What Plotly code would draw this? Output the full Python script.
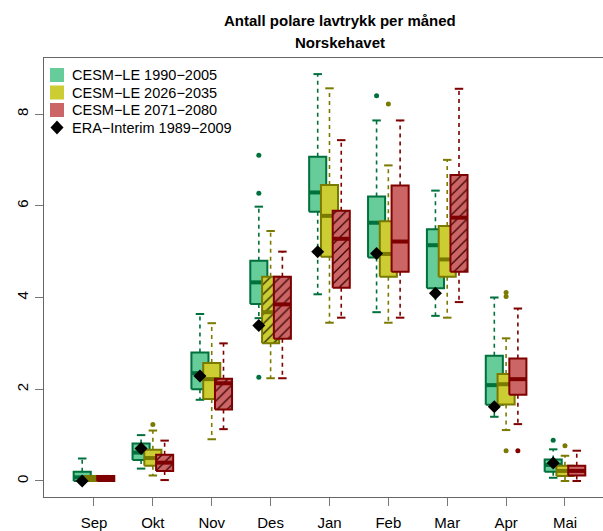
import plotly.graph_objects as go

# Months (Sep-Mai) and the number of polar lows per month
months = ["Sep", "Okt", "Nov", "Des", "Jan", "Feb", "Mar", "Apr", "Mai"]

# CESM-LE 1990-2005
g_lower = [0.00, 0.27, 1.77, 3.55, 4.07, 3.68, 3.60, 1.40, 0.07]
g_q1 = [0.00, 0.46, 2.00, 3.86, 5.87, 4.87, 4.20, 1.66, 0.20]
g_med = [0.08, 0.62, 2.35, 4.33, 6.29, 5.63, 5.14, 2.09, 0.35]
g_q3 = [0.20, 0.82, 2.80, 4.80, 7.07, 6.20, 5.49, 2.73, 0.47]
g_upper = [0.49, 1.00, 3.64, 5.98, 8.87, 7.86, 6.33, 4.00, 0.69]
g_out = {"Des": [7.10, 6.27, 2.26], "Feb": [8.40], "Mai": [0.89]}
g_hatch = []

# CESM-LE 2026-2035
y_lower = [0.00, 0.12, 0.91, 2.24, 3.45, 3.45, 3.56, 1.11, 0.00]
y_q1 = [0.00, 0.33, 1.79, 3.00, 4.89, 4.45, 4.45, 1.67, 0.11]
y_med = [0.05, 0.50, 2.22, 3.68, 5.78, 4.95, 4.83, 2.11, 0.22]
y_q3 = [0.11, 0.68, 2.57, 4.45, 6.45, 5.66, 5.56, 2.33, 0.33]
y_upper = [0.11, 1.10, 3.44, 5.45, 8.56, 6.88, 7.00, 3.11, 0.55]
y_out = {"Okt": [1.23], "Feb": [8.22], "Apr": [4.11, 4.02, 0.66], "Mai": [0.77]}
y_hatch = ["Sep", "Des"]

# CESM-LE 2071-2080
r_lower = [0.00, 0.02, 1.13, 2.24, 3.56, 3.56, 3.90, 1.24, 0.00]
r_q1 = [0.00, 0.22, 1.56, 3.10, 4.21, 4.56, 4.56, 1.88, 0.12]
r_med = [0.05, 0.40, 2.13, 3.85, 5.28, 5.22, 5.74, 2.22, 0.22]
r_q3 = [0.11, 0.57, 2.23, 4.45, 5.89, 6.44, 6.67, 2.67, 0.33]
r_upper = [0.11, 0.88, 3.00, 5.00, 7.43, 7.86, 8.55, 3.76, 0.66]
r_out = {"Apr": [0.66]}
r_hatch = ["Sep", "Okt", "Nov", "Des", "Jan", "Mar"]

# ERA-Interim 1989-2009
era = [0.00, 0.71, 2.29, 3.39, 5.00, 4.96, 4.09, 1.62, 0.39]
era_label = "ERA\u2212Interim 1989\u22122009"

y_ticks = [0, 2, 4, 6, 8]

series = [
    dict(name="CESM\u2212LE 1990\u22122005", fill="#66CC99", line="#00703C", hatchc="#003a1e",
         lower=g_lower, q1=g_q1, med=g_med, q3=g_q3, upper=g_upper, out=g_out, hatch=g_hatch, off=-0.2),
    dict(name="CESM\u2212LE 2026\u22122035", fill="#CCCC33", line="#7A7A00", hatchc="#222200",
         lower=y_lower, q1=y_q1, med=y_med, q3=y_q3, upper=y_upper, out=y_out, hatch=y_hatch, off=0.0),
    dict(name="CESM\u2212LE 2071\u22122080", fill="#CC6666", line="#7F0000", hatchc="#3a0000",
         lower=r_lower, q1=r_q1, med=r_med, q3=r_q3, upper=r_upper, out=r_out, hatch=r_hatch, off=0.2),
]

BOX_HW = 0.145   # half box width (x units, one unit per month)
CAP_HW = 0.072   # half staple width
FONT = "Liberation Sans, Arial, Helvetica, sans-serif"

# plot-area geometry in pixels, used to place the legend block
W, H = 603, 531
ML, MR, MT, MB = 44, 0, 58, 34
PW, PH = W - ML - MR, H - MT - MB


def px_x(p):
    return (p - ML) / PW


def px_y(p):
    return (H - MB - p) / PH


fig = go.Figure()

for s in series:
    for i, m in enumerate(months):
        xc = i + 1 + s["off"]
        xl, xr = xc - BOX_HW, xc + BOX_HW
        lo, q1, md, q3, up = s["lower"][i], s["q1"][i], s["med"][i], s["q3"][i], s["upper"][i]
        # dashed whiskers
        fig.add_trace(go.Scatter(x=[xc, xc, None, xc, xc], y=[q3, up, None, q1, lo],
                                 mode="lines", line=dict(color=s["line"], width=1.6, dash="4px,4px"),
                                 showlegend=False, hoverinfo="skip"))
        # staples
        fig.add_trace(go.Scatter(x=[xc - CAP_HW, xc + CAP_HW, None, xc - CAP_HW, xc + CAP_HW],
                                 y=[up, up, None, lo, lo],
                                 mode="lines", line=dict(color=s["line"], width=2),
                                 showlegend=False, hoverinfo="skip"))
        # box
        box = dict(x=[xl, xr, xr, xl, xl], y=[q1, q1, q3, q3, q1], mode="lines", fill="toself",
                   fillcolor=s["fill"], line=dict(color=s["line"], width=2),
                   showlegend=False, hoverinfo="skip")
        if m in s["hatch"]:
            box["fillpattern"] = dict(shape="/", fgcolor=s["hatchc"], bgcolor=s["fill"],
                                      size=7, solidity=0.18, fillmode="replace")
        fig.add_trace(go.Scatter(**box))
        # median
        fig.add_trace(go.Scatter(x=[xl, xr], y=[md, md], mode="lines",
                                 line=dict(color=s["line"], width=4),
                                 showlegend=False, hoverinfo="skip"))
    # outliers
    ox, oy = [], []
    for m, vals in s["out"].items():
        for v in vals:
            ox.append(months.index(m) + 1 + s["off"])
            oy.append(v)
    fig.add_trace(go.Scatter(x=ox, y=oy, mode="markers",
                             marker=dict(size=5, color=s["line"]),
                             showlegend=False, hoverinfo="skip"))

# ERA-Interim
fig.add_trace(go.Scatter(x=[i + 1 - 0.2 for i in range(len(months))], y=era, mode="markers",
                         marker=dict(symbol="diamond", size=10, color="black"),
                         showlegend=False, hoverinfo="skip"))

# legend block in the top-left corner
shapes, annotations = [], []
row_y = [75, 92.5, 110, 127.5]
for s, ry in zip(series, row_y):
    shapes.append(dict(type="rect", xref="paper", yref="paper",
                       x0=px_x(50), x1=px_x(64), y0=px_y(ry + 7), y1=px_y(ry - 7),
                       fillcolor=s["fill"], line=dict(width=0)))
labels = [s["name"] for s in series] + [era_label]
shapes.append(dict(type="path", xref="paper", yref="paper", xsizemode="pixel", ysizemode="pixel",
                   xanchor=px_x(57), yanchor=px_y(row_y[3]),
                   path="M0,7 L6.5,0 L0,-7 L-6.5,0 Z", fillcolor="black", line=dict(width=0)))
for lab, ry in zip(labels, row_y):
    annotations.append(dict(text=lab, xref="paper", yref="paper", x=px_x(70), y=px_y(ry),
                            xanchor="left", yanchor="middle", showarrow=False,
                            font=dict(size=14.5)))

title_x = px_x(340)
annotations += [
    dict(text="<b>Antall polare lavtrykk per m\u00e5ned</b>", xref="paper", yref="paper",
         x=title_x, y=px_y(20), xanchor="center", yanchor="middle",
         showarrow=False, font=dict(size=15)),
    dict(text="<b>Norskehavet</b>", xref="paper", yref="paper",
         x=title_x, y=px_y(43), xanchor="center", yanchor="middle",
         showarrow=False, font=dict(size=15)),
]

fig.update_layout(
    width=W, height=H,
    margin=dict(l=ML, r=MR, t=MT, b=MB),
    paper_bgcolor="white", plot_bgcolor="white",
    font=dict(family=FONT, size=15, color="black"),
    showlegend=False,
    shapes=shapes,
    annotations=annotations,
)

fig.update_xaxes(
    range=[0.151, 9.646], tickmode="array", tickvals=list(range(1, len(months) + 1)),
    ticktext=months, ticks="outside", ticklen=8, tickcolor="#777", tickwidth=1,
    showline=True, linecolor="#666", linewidth=1, mirror=True,
    showgrid=False, zeroline=False, tickfont=dict(size=15), ticklabelstandoff=4,
)
fig.update_yaxes(
    range=[-0.349, 9.221], tickmode="array", tickvals=y_ticks, ticktext=[str(v) for v in y_ticks],
    ticks="outside", ticklen=8, tickcolor="#777", tickwidth=1, tickangle=-90,
    showline=True, linecolor="#666", linewidth=1, mirror=False,
    showgrid=False, zeroline=False, tickfont=dict(size=15), ticklabelstandoff=1,
)

fig.write_html("out.html")
